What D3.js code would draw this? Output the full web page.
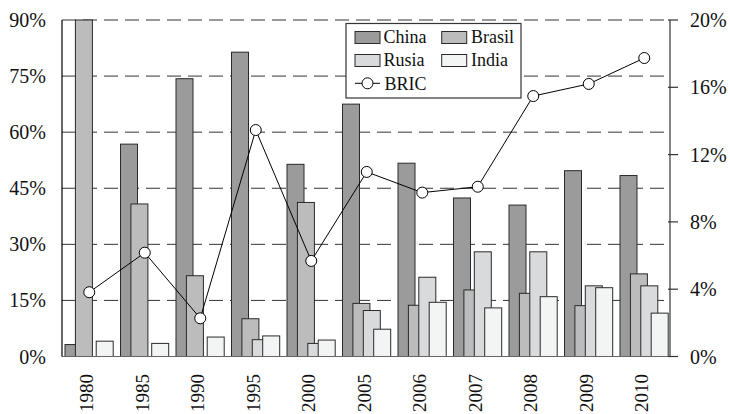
<!DOCTYPE html>
<html><head><meta charset="utf-8">
<script src="https://cdn.jsdelivr.net/npm/d3@7"></script>
<style>body{margin:0;background:#fff}svg{display:block}text{font-family:"Liberation Serif","Times New Roman",serif}</style>
</head><body><svg id="c" width="730" height="414"></svg>
<script>
const years = ["1980","1985","1990","1995","2000","2005","2006","2007","2008","2009","2010"];
const china  = [3.2, 56.8, 74.3, 81.4, 51.4, 67.5, 51.7, 42.4, 40.5, 49.7, 48.4];
const brasil = [90, 40.8, 21.6, 10.1, 41.2, 14.2, 13.7, 17.8, 16.9, 13.6, 22.1];
const rusia  = [0, 0, 0, 4.5, 3.5, 12.3, 21.2, 28.0, 28.0, 18.9, 18.9];
const india  = [4.1, 3.5, 5.2, 5.5, 4.4, 7.3, 14.5, 13.0, 16.0, 18.4, 11.6];
const bric   = [3.82, 6.17, 2.27, 13.46, 5.68, 10.97, 9.74, 10.09, 15.48, 16.2, 17.74];
const leftTicks = [0, 15, 30, 45, 60, 75, 90];
const rightTicks = [0, 4, 8, 12, 16, 20];
const seriesNames = ["China","Brasil","Rusia","India"];
const seriesColors = ["#9b9b9b","#bcbcbc","#d9dadb","#f3f5f4"];
const seriesData = [china, brasil, rusia, india];

const svg = d3.select("#c");
const L = 62, R = 670, T = 20, B = 356.5;
const x = d3.scaleBand().domain(years).range([61.5, 672]);
const y = d3.scaleLinear().domain([0, 90]).range([B, T]);
const y2 = d3.scaleLinear().domain([0, 20]).range([B, T]);
const inner = 3.5, sstep = 10.4, bw = 17;

// gridlines
svg.append("g").selectAll("line").data(leftTicks.filter(d => d > 0)).join("line")
  .attr("x1", L).attr("x2", R).attr("y1", d => y(d)).attr("y2", d => y(d))
  .attr("stroke", "#333").attr("stroke-width", 1).attr("stroke-dasharray", "14,7");

// bars
seriesData.forEach((arr, si) => {
  svg.append("g").selectAll("rect").data(arr.map((v, i) => ({v, yr: years[i]})).filter(d => d.v > 0)).join("rect")
    .attr("x", d => x(d.yr) + inner + si * sstep)
    .attr("width", bw)
    .attr("y", d => y(d.v))
    .attr("height", d => B - y(d.v))
    .attr("fill", seriesColors[si]).attr("stroke", "#2a2a2a").attr("stroke-width", 1);
});

// axes
const ax = svg.append("g");
ax.append("line").attr("x1", L).attr("x2", R).attr("y1", B).attr("y2", B).attr("stroke", "#666").attr("stroke-width", 1.2);
ax.append("line").attr("x1", L).attr("x2", L).attr("y1", T).attr("y2", B).attr("stroke", "#000").attr("stroke-width", 1.2);
ax.append("line").attr("x1", R).attr("x2", R).attr("y1", T).attr("y2", B).attr("stroke", "#333").attr("stroke-width", 1.2);
ax.selectAll("line.rt").data(rightTicks).join("line").attr("class","rt")
  .attr("x1", R - 2).attr("x2", R + 8).attr("y1", d => y2(d)).attr("y2", d => y2(d)).attr("stroke", "#333").attr("stroke-width", 1.2);
ax.selectAll("text.lt").data(leftTicks).join("text").attr("class","lt")
  .attr("x", 46).attr("y", d => y(d)).attr("dy", "0.35em").attr("text-anchor", "end")
  .attr("font-size", 20).attr("fill", "#111").text(d => d + "%");
ax.selectAll("text.rtl").data(rightTicks).join("text").attr("class","rtl")
  .attr("x", 690).attr("y", d => y2(d)).attr("dy", "0.35em").attr("text-anchor", "start")
  .attr("font-size", 20).attr("fill", "#111").text(d => d + "%");
ax.selectAll("text.xl").data(years).join("text").attr("class","xl")
  .attr("transform", d => `translate(${x(d) + x.bandwidth()/2 - 2.5},374) rotate(-90)`)
  .attr("dy", "0.35em").attr("text-anchor", "end")
  .attr("font-size", 19).attr("fill", "#111").text(d => d);

// BRIC line
const line = d3.line().x((d, i) => x(years[i]) + x.bandwidth()/2).y(d => y2(d));
svg.append("path").datum(bric).attr("d", line).attr("fill", "none").attr("stroke", "#000").attr("stroke-width", 1);
svg.append("g").selectAll("circle").data(bric).join("circle")
  .attr("cx", (d, i) => x(years[i]) + x.bandwidth()/2).attr("cy", d => y2(d)).attr("r", 5.5)
  .attr("fill", "#fff").attr("stroke", "#000").attr("stroke-width", 1);

// legend
const lg = svg.append("g");
lg.append("rect").attr("x", 346).attr("y", 23.5).attr("width", 175).attr("height", 74.5)
  .attr("fill", "#fff").attr("stroke", "#333").attr("stroke-width", 1.2);
const pos = [[355, 31.5, 383.5, 42.5], [441.7, 31.5, 471, 42.5], [355, 54.5, 383.5, 65.5], [441.7, 54.5, 471, 65.5]];
seriesNames.forEach((n, i) => {
  const p = pos[i];
  lg.append("rect").attr("x", p[0]).attr("y", p[1]).attr("width", 25).attr("height", 12)
    .attr("fill", seriesColors[i]).attr("stroke", "#2a2a2a").attr("stroke-width", 1);
  lg.append("text").attr("x", p[2]).attr("y", p[3]).attr("font-size", 18).attr("fill", "#111").text(n);
});
lg.append("line").attr("x1", 355).attr("x2", 380).attr("y1", 83.3).attr("y2", 83.3).attr("stroke", "#000");
lg.append("circle").attr("cx", 367.5).attr("cy", 83.3).attr("r", 5.5).attr("fill", "#fff").attr("stroke", "#000");
lg.append("text").attr("x", 384.5).attr("y", 89.5).attr("font-size", 18).attr("fill", "#111").text("BRIC");
</script></body></html>
